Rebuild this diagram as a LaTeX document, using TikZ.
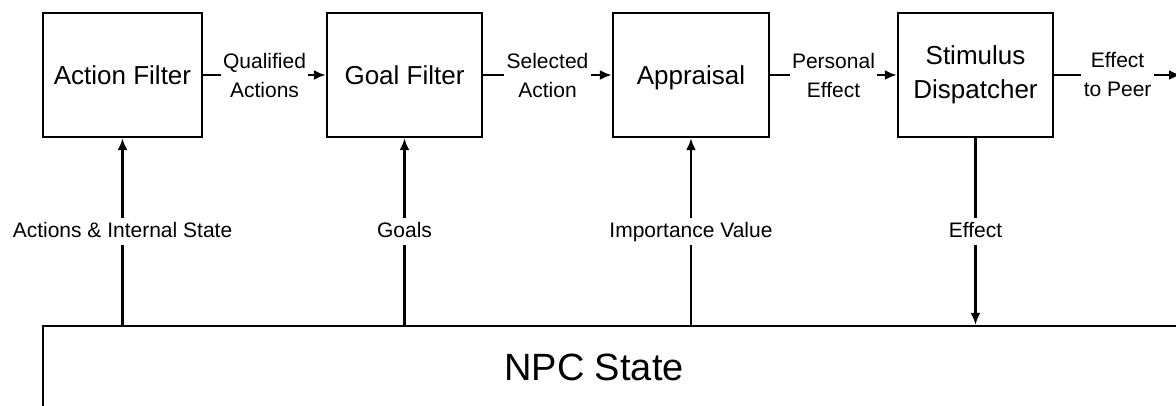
\documentclass[tikz,border=0pt]{standalone}
\usepackage{fontspec}
\setmainfont{Liberation Sans}
\usetikzlibrary{arrows.meta}
\tikzset{
  blk/.style={draw=black, line width=2.4pt, minimum height=124pt, inner sep=0pt, align=center,
    font=\fontsize{26}{34}\selectfont},
  lab/.style={fill=white, inner sep=2.5pt, align=center, font=\fontsize{21}{29}\selectfont},
  vlab/.style={lab, text height=15pt, text depth=4pt, inner sep=4pt},
  arr/.style={line width=2.4pt, -{Latex[length=12pt,width=10pt]}},
  npcbox/.style={draw=black, line width=2.4pt, inner sep=0pt},
}
\begin{document}
\begin{tikzpicture}[x=1pt,y=-1pt]
\useasboundingbox (0,0) rectangle (1176,405);
\clip (0,0) rectangle (1176,405);
\node[blk, minimum width=159pt] (af) at (122.5,75) {Action Filter};
\node[blk, minimum width=155pt] (gf) at (404.5,75) {Goal Filter};
\node[blk, minimum width=156pt, text height=19pt, text depth=0pt] (ap) at (691,75) {Appraisal};
\node[blk, minimum width=155pt] (sd) at (975.5,75) {Stimulus\\Dispatcher};
\node[npcbox, minimum width=1160pt, minimum height=120pt] (npc) at (623,386) {};
\node[font=\fontsize{38}{46}\selectfont, inner sep=0pt] (npclabel) at (594,367) {NPC State};
\coordinate (peer) at (1181,75);
\draw[arr] (af.east) -- node[lab]{Qualified\\Actions} (gf.west);
\draw[arr] (gf.east) -- node[lab]{Selected\\Action} (ap.west);
\draw[arr] (ap.east) -- node[lab]{Personal\\Effect} (sd.west);
\draw[arr] (sd.east) -- node[lab]{Effect\\to Peer} (peer);
\draw[arr] (npc.north -| af.south) -- node[vlab]{Actions \& Internal State} (af.south);
\draw[arr] (npc.north -| gf.south) -- node[vlab]{Goals} (gf.south);
\draw[arr] (npc.north -| ap.south) -- node[vlab]{Importance Value} (ap.south);
\draw[arr] (sd.south) -- node[vlab]{Effect} (npc.north -| sd.south);
\end{tikzpicture}
\end{document}
